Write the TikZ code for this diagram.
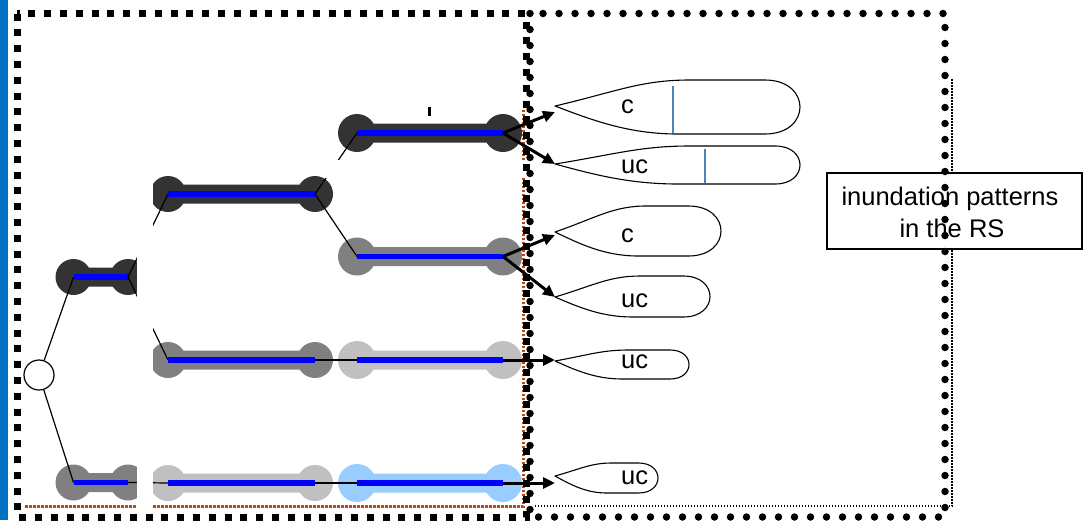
\documentclass[tikz,border=0pt]{standalone}
\usepackage{fontspec}
\setmainfont{Liberation Sans}
\usetikzlibrary{arrows.meta}

\definecolor{stripblue}{RGB}{0,112,192}
\definecolor{nodedark}{RGB}{51,51,51}
\definecolor{nodegray}{RGB}{128,128,128}
\definecolor{nodelight}{RGB}{192,192,192}
\definecolor{nodesky}{RGB}{153,204,255}
\definecolor{axisblue}{RGB}{0,0,255}
\definecolor{rustdot}{RGB}{184,74,24}
\definecolor{markblue}{RGB}{79,129,189}

% a bar with rounded ends: name, left x, right x, y, end radius, colour
\newcommand{\dumbbell}[6]{%
  \coordinate (#1-l) at (#2,#4);
  \coordinate (#1-r) at (#3,#4);
  \pgfmathsetmacro\dbt{#4-9.5}%
  \pgfmathsetmacro\dbb{#4+9.5}%
  \fill[#6] (#1-l) circle[radius=#5pt] (#1-r) circle[radius=#5pt]
            (#2,\dbt) rectangle (#3,\dbb);
  \draw[axis] (#1-l) -- (#1-r);
}

% a drop-shaped outcome: name, tip y, top, bottom, right end, entry y, baseline, label
\newcommand{\leafshape}[8]{%
  \pgfmathsetmacro\lfL{#5-555}%
  \pgfmathsetmacro\lfr{(#4-#3)/2}%
  \pgfmathsetmacro\lfa{555+0.55*\lfL}%
  \pgfmathsetmacro\lfb{#5-1.3*\lfr}%
  \pgfmathsetmacro\lfk{\lfb+1.733*\lfr}%
  \pgfmathsetmacro\lfc{555+0.5*\lfL}%
  \pgfmathsetmacro\lfpx{555+0.25*\lfL}%
  \pgfmathsetmacro\lfpy{#2-0.55*(#2-#3)}%
  \pgfmathsetmacro\lfqx{555+0.35*\lfL}%
  \pgfmathsetmacro\lfsx{555+0.3*\lfL}%
  \pgfmathsetmacro\lftx{555+0.15*\lfL}%
  \pgfmathsetmacro\lfty{#2+0.5*(#4-#2)}%
  \draw[leafline] (555,#2)
     .. controls (\lfpx,\lfpy) and (\lfqx,#3) .. (\lfa,#3)
     -- (\lfb,#3)
     .. controls (\lfk,#3) and (\lfk,#4) .. (\lfb,#4)
     -- (\lfc,#4)
     .. controls (\lfsx,#4) and (\lftx,\lfty) .. cycle;
  \coordinate (#1) at (555,#6);
  \node[lab, anchor=base west] (#1-text) at (621,#7) {#8};
}

\begin{document}
\begin{tikzpicture}[x=1pt,y=-1pt,
  axis/.style={axisblue, line width=5.5pt},
  thinlink/.style={black, line width=1.2pt},
  fwd/.style={black, line width=3pt, -{Triangle[length=12pt,width=11pt]}},
  leafline/.style={draw=black, line width=1.1pt, fill=white, line join=round},
  lab/.style={font=\fontsize{25.5}{30}\selectfont, inner sep=0pt},
  sqdots/.style={line width=7pt, dash pattern=on 7pt off 8.8pt},
  rddots/.style={line width=7.5pt, line cap=round, dash pattern=on 0pt off 16pt},
  finedots/.style={line width=1.5pt, dash pattern=on 1.5pt off 1.5pt},
  rustline/.style={rustdot, line width=3pt, dash pattern=on 2.5pt off 1.5pt},
  mask/.style={fill=white}]
\useasboundingbox (0,0) rectangle (1090,520);
\fill[white] (0,0) rectangle (1090,520);

% left margin strip
\fill[stripblue] (0,0) rectangle (8,520);

% stages of the tree
\dumbbell{A}{73.5}{128}{277}{18}{nodedark}
\dumbbell{B}{73.5}{128}{482.5}{18}{nodegray}
\dumbbell{C}{168}{315}{194}{18}{nodedark}
\dumbbell{D}{168}{315}{360}{18}{nodegray}
\dumbbell{E}{168}{315}{483}{18}{nodelight}
\dumbbell{F}{357}{503}{133}{19}{nodedark}
\dumbbell{G}{357}{503}{256.5}{19}{nodegray}
\dumbbell{H}{357}{503}{360}{19}{nodelight}
\dumbbell{I}{357}{503}{483}{19}{nodesky}

% root
\node[circle, draw, fill=white, line width=1.2pt, minimum size=30pt, inner sep=0pt] (root) at (39,375) {};

% branches
\draw[thinlink] (root) -- (A-l);
\draw[thinlink] (root) -- (B-l);
\draw[thinlink] (A-r) -- (C-l);
\draw[thinlink] (A-r) -- (D-l);
\draw[thinlink] (B-r) -- (E-l);
\draw[thinlink] (C-r) -- (F-l);
\draw[thinlink] (C-r) -- (G-l);
\draw[thinlink] (D-r) -- (H-l);
\draw[thinlink] (E-r) -- (I-l);

% small tick above the top stage
\fill[black] (428,107) rectangle (430.5,116);

% frame of the known part
\draw[rustline] (25,506) -- (523,506) -- (523,110);

% cover strips
\fill[mask] (137,165) rectangle (152.5,512);
\fill[mask] (325,160) rectangle (526,178);

% outcomes
\leafshape{L1}{106}{80}{134}{800}{112}{113}{c}
\leafshape{L2}{164}{146}{184}{800}{164}{173}{uc}
\leafshape{L3}{232}{206}{256}{721}{235}{242}{c}
\leafshape{L4}{297}{276}{317}{710}{297}{307}{uc}
\leafshape{L5}{361}{350}{379}{689}{360}{368}{uc}
\leafshape{L6}{476}{463}{493}{658}{483}{484}{uc}
\draw[markblue, line width=1.5pt] (673,86) -- (673,133);
\draw[markblue, line width=1.5pt] (705,149) -- (705,183);

\draw[fwd] (F-r) -- (L1);
\draw[fwd] (F-r) -- (L2);
\draw[fwd] (G-r) -- (L3);
\draw[fwd] (G-r) -- (L4);
\draw[fwd] (H-r) -- (L5);
\draw[fwd] (I-r) -- (L6);

% inner frame and label box
\draw[finedots] (952,79) -- (952,506) -- (533,506);
\node[draw, fill=white, line width=1.2pt, minimum width=255pt, minimum height=76pt, inner sep=0pt] (rs) at (954.5,211) {};
\node[lab, anchor=base] (rs1) at (950,205) {inundation patterns};
\node[lab, anchor=base] (rs2) at (952,237) {in the RS};

% outer frames
\draw[sqdots] (17,13.5) rectangle (526,517);
\draw[rddots] (530,13.5) rectangle (945,517);
\end{tikzpicture}
\end{document}
